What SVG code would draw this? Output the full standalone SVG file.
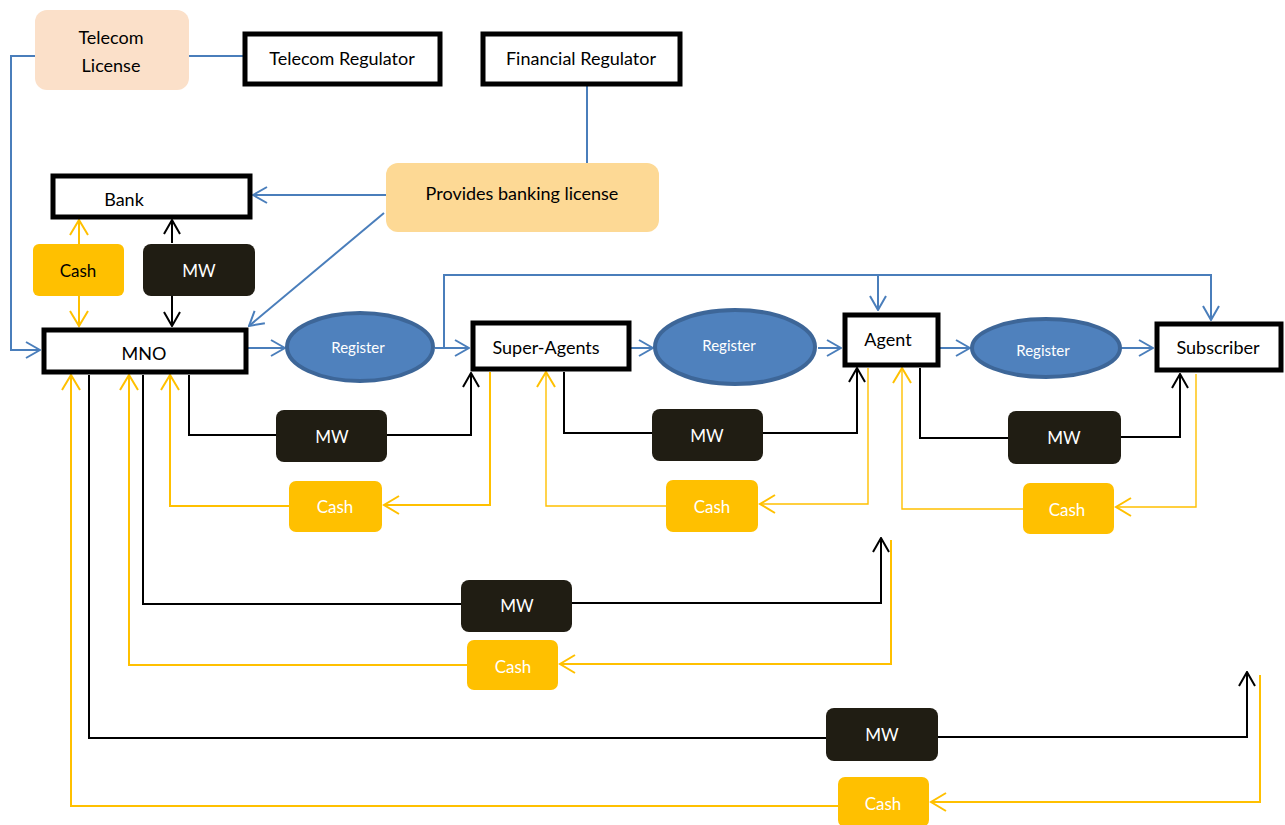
<svg xmlns="http://www.w3.org/2000/svg" width="1285" height="825" viewBox="0 0 1285 825">
  <style>
    text { font-family: Lato, "Liberation Sans", sans-serif; font-size: 18px; text-anchor: middle; dominant-baseline: central; fill: #000; }
    .box { fill: #fff; stroke: #000; stroke-width: 5; }
    .reg { fill: #4f81bd; stroke: #3d6698; stroke-width: 4; }
    .reg-t { fill: #fff; font-size: 15px; }
    .mw { fill: #201d13; }
    .mw-t { fill: #fff; font-size: 17px; }
    .cash { fill: #ffc000; }
    .cash-t { fill: #fff; font-size: 17px; }
    .cash-k { font-size: 17px; }
    .blue { fill: none; stroke: #4a7ebb; stroke-width: 2; }
    .blk { fill: none; stroke: #000; stroke-width: 2; }
    .yel { fill: none; stroke: #ffc000; stroke-width: 2; }
    .yel-thin { fill: none; stroke: #ffc000; stroke-width: 1.4; }
  </style>
  <defs>
    <marker id="ah-blue" markerUnits="userSpaceOnUse" markerWidth="16" markerHeight="20" refX="15" refY="9" orient="auto-start-reverse">
      <path d="M1,1 L15,9 L1,17" fill="none" stroke="#4a7ebb" stroke-width="2"/>
    </marker>
    <marker id="ah-black" markerUnits="userSpaceOnUse" markerWidth="16" markerHeight="20" refX="15" refY="9" orient="auto-start-reverse">
      <path d="M1,1 L15,9 L1,17" fill="none" stroke="#000" stroke-width="2"/>
    </marker>
    <marker id="ah-yellow" markerUnits="userSpaceOnUse" markerWidth="18" markerHeight="22" refX="16" refY="10" orient="auto-start-reverse">
      <path d="M1,1 L16,10 L1,19" fill="none" stroke="#ffc000" stroke-width="2"/>
    </marker>
  </defs>

  <!-- connectors -->
  <g id="connectors">
    <!-- licensing / registration flow (blue) -->
    <path class="blue" d="M189,56 H244"/>
    <path class="blue" d="M35,56 H11 V350 H40" marker-end="url(#ah-blue)"/>
    <path class="blue" d="M587,85 V163"/>
    <path class="blue" d="M386,195 H253" marker-end="url(#ah-blue)"/>
    <path class="blue" d="M384,213 L249,326" marker-end="url(#ah-blue)"/>
    <path class="blue" d="M248,348 H285" marker-end="url(#ah-blue)"/>
    <path class="blue" d="M435,348 H469" marker-end="url(#ah-blue)"/>
    <path class="blue" d="M444,348 V275 H1211 V320" marker-end="url(#ah-blue)"/>
    <path class="blue" d="M878,275 V310" marker-end="url(#ah-blue)"/>
    <path class="blue" d="M631,348 H653" marker-end="url(#ah-blue)"/>
    <path class="blue" d="M818,348 H841" marker-end="url(#ah-blue)"/>
    <path class="blue" d="M940,348 H970" marker-end="url(#ah-blue)"/>
    <path class="blue" d="M1121,348 H1153" marker-end="url(#ah-blue)"/>

    <!-- mobile wallet flow (black) -->
    <path class="blk" d="M172,243 V220" marker-end="url(#ah-black)"/>
    <path class="blk" d="M172,296 V326" marker-end="url(#ah-black)"/>
    <path class="blk" d="M189,375 V435 H276"/>
    <path class="blk" d="M387,435 H471 V373" marker-end="url(#ah-black)"/>
    <path class="blk" d="M564,372 V433 H652"/>
    <path class="blk" d="M763,433 H857 V368" marker-end="url(#ah-black)"/>
    <path class="blk" d="M920,368 V438 H1008"/>
    <path class="blk" d="M1121,437 H1180 V374" marker-end="url(#ah-black)"/>
    <path class="blk" d="M143,375 V604 H461"/>
    <path class="blk" d="M572,603 H881 V538" marker-end="url(#ah-black)"/>
    <path class="blk" d="M89,375 V738 H826"/>
    <path class="blk" d="M938,737 H1247 V672" marker-end="url(#ah-black)"/>

    <!-- cash flow (yellow) -->
    <path class="yel" d="M79,220 V326" marker-start="url(#ah-yellow)" marker-end="url(#ah-yellow)"/>
    <path class="yel" d="M490,372 V505 H384" marker-end="url(#ah-yellow)"/>
    <path class="yel" d="M289,506 H170 V375" marker-end="url(#ah-yellow)"/>
    <path class="yel-thin" d="M868,368 V504 H760" marker-end="url(#ah-yellow)"/>
    <path class="yel-thin" d="M666,506 H546 V372" marker-end="url(#ah-yellow)"/>
    <path class="yel-thin" d="M1196,374 V507 H1116" marker-end="url(#ah-yellow)"/>
    <path class="yel-thin" d="M1023,509 H902 V368" marker-end="url(#ah-yellow)"/>
    <path class="yel" d="M891,540 V664 H560" marker-end="url(#ah-yellow)"/>
    <path class="yel" d="M467,665 H129 V375" marker-end="url(#ah-yellow)"/>
    <path class="yel" d="M1260,675 V802 H931" marker-end="url(#ah-yellow)"/>
    <path class="yel" d="M838,806 H71 V375" marker-end="url(#ah-yellow)"/>
  </g>

  <!-- regulators and licences -->
  <g id="telecom-license">
    <rect x="35" y="10" width="154" height="80" rx="12" fill="#fbe0c9"/>
    <text x="111" y="37">Telecom</text>
    <text x="111" y="65">License</text>
  </g>
  <g id="telecom-regulator">
    <rect class="box" x="245" y="34" width="195" height="50"/>
    <text x="342" y="58">Telecom Regulator</text>
  </g>
  <g id="financial-regulator">
    <rect class="box" x="483" y="34" width="197" height="50"/>
    <text x="581" y="58">Financial Regulator</text>
  </g>
  <g id="banking-license">
    <rect x="386" y="163" width="273" height="69" rx="12" fill="#fdd995"/>
    <text x="522" y="193">Provides banking license</text>
  </g>

  <!-- bank and operator -->
  <g id="bank">
    <rect class="box" x="53" y="176" width="197" height="41"/>
    <text x="124" y="199">Bank</text>
  </g>
  <g id="bank-cash">
    <rect class="cash" x="33" y="244" width="91" height="52" rx="6"/>
    <text class="cash-k" x="78" y="270">Cash</text>
  </g>
  <g id="bank-mw">
    <rect class="mw" x="143" y="244" width="112" height="52" rx="8"/>
    <text class="mw-t" x="199" y="270">MW</text>
  </g>
  <g id="mno">
    <rect class="box" x="44" y="330" width="202" height="42"/>
    <text x="144" y="353">MNO</text>
  </g>

  <!-- distribution chain -->
  <g id="register-1">
    <ellipse class="reg" cx="360" cy="347" rx="73" ry="34"/>
    <text class="reg-t" x="358" y="347">Register</text>
  </g>
  <g id="super-agents">
    <rect class="box" x="473" y="323" width="156" height="46"/>
    <text x="546" y="347">Super-Agents</text>
  </g>
  <g id="register-2">
    <ellipse class="reg" cx="735" cy="347" rx="80" ry="37"/>
    <text class="reg-t" x="729" y="345">Register</text>
  </g>
  <g id="agent">
    <rect class="box" x="845" y="315" width="93" height="50"/>
    <text x="888" y="339">Agent</text>
  </g>
  <g id="register-3">
    <ellipse class="reg" cx="1046" cy="348" rx="74" ry="29"/>
    <text class="reg-t" x="1043" y="350">Register</text>
  </g>
  <g id="subscriber">
    <rect class="box" x="1157" y="324" width="124" height="46"/>
    <text x="1218" y="347">Subscriber</text>
  </g>

  <!-- flow labels -->
  <g id="mw-mno-superagents">
    <rect class="mw" x="276" y="410" width="111" height="52" rx="8"/>
    <text class="mw-t" x="332" y="436">MW</text>
  </g>
  <g id="cash-superagents-mno">
    <rect class="cash" x="289" y="481" width="93" height="51" rx="7"/>
    <text class="cash-t" x="335" y="506">Cash</text>
  </g>
  <g id="mw-superagents-agent">
    <rect class="mw" x="652" y="409" width="111" height="52" rx="8"/>
    <text class="mw-t" x="707" y="435">MW</text>
  </g>
  <g id="cash-agent-superagents">
    <rect class="cash" x="666" y="480" width="92" height="52" rx="7"/>
    <text class="cash-t" x="712" y="506">Cash</text>
  </g>
  <g id="mw-agent-subscriber">
    <rect class="mw" x="1008" y="411" width="113" height="53" rx="8"/>
    <text class="mw-t" x="1064" y="437">MW</text>
  </g>
  <g id="cash-subscriber-agent">
    <rect class="cash" x="1023" y="483" width="91" height="51" rx="7"/>
    <text class="cash-t" x="1067" y="509">Cash</text>
  </g>
  <g id="mw-mno-agent">
    <rect class="mw" x="461" y="580" width="111" height="52" rx="8"/>
    <text class="mw-t" x="517" y="605">MW</text>
  </g>
  <g id="cash-agent-mno">
    <rect class="cash" x="467" y="640" width="91" height="50" rx="7"/>
    <text class="cash-t" x="513" y="666">Cash</text>
  </g>
  <g id="mw-mno-subscriber">
    <rect class="mw" x="826" y="708" width="112" height="53" rx="8"/>
    <text class="mw-t" x="882" y="734">MW</text>
  </g>
  <g id="cash-subscriber-mno">
    <rect class="cash" x="838" y="777" width="91" height="50" rx="7"/>
    <text class="cash-t" x="883" y="803">Cash</text>
  </g>
</svg>
